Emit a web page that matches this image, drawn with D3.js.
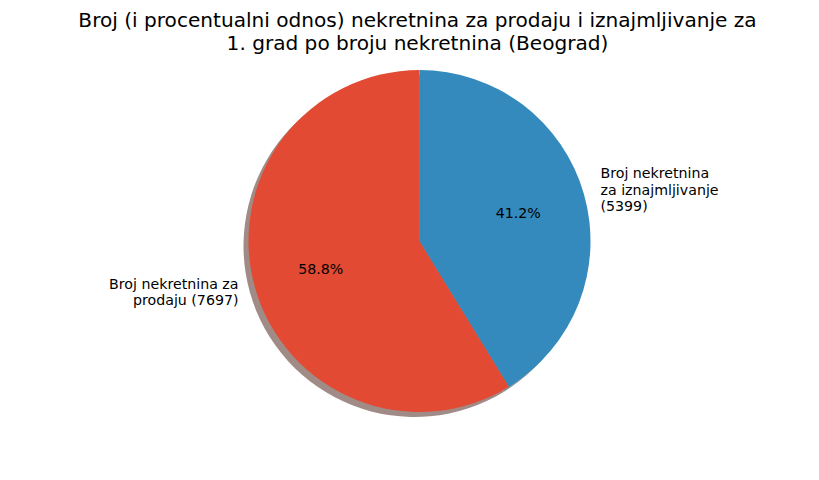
<!DOCTYPE html>
<html>
<head>
<meta charset="utf-8">
<script src="https://cdn.jsdelivr.net/npm/d3@7"></script>
<style>
    body { margin: 0; background: #fff; }
    text { font-family: "DejaVu Sans", sans-serif; }
</style>
</head>
<body>
<script>
// data

const categories = ["prodaja", "iznajmljivanje"];
const values = [7697, 5399];
const labelLines = [
    ["Broj nekretnina za", "prodaju (7697)"],
    ["Broj nekretnina", "za iznajmljivanje", "(5399)"]
];
const colors = ["#E24A33", "#348ABD"];
const titleLines = [
    "Broj (i procentualni odnos) nekretnina za prodaju i iznajmljivanje za",
    "1. grad po broju nekretnina (Beograd)"
];

function drawPie() {

    // dimensions

    const dms = { width: 819, height: 480, cx: 419.5, cy: 241, r: 171 };

    const svg = d3.select("body")
                  .append("svg")
                    .attr("width", dms.width)
                    .attr("height", dms.height);

    // title

    svg.append("text")
        .attr("x", dms.cx)
        .attr("y", 27)
        .attr("text-anchor", "middle")
        .style("font-size", "20.1px")
        .selectAll("tspan")
        .data(titleLines)
        .join("tspan")
          .attr("x", dms.cx - 2)
          .attr("dy", (d, i) => i === 0 ? 0 : 23.3)
          .text(d => d);

    // pie layout: first slice counter-clockwise from the top

    const color = d3.scaleOrdinal().domain(categories).range(colors);
    const shadowColor = d3.scaleOrdinal().domain(categories).range(colors.map(c => {
        const k = d3.rgb(c);
        return d3.rgb(255 - (255 - 0.3 * k.r) * 0.5, 255 - (255 - 0.3 * k.g) * 0.5, 255 - (255 - 0.3 * k.b) * 0.5);
    }));

    const pie = d3.pie()
                  .value((d, i) => values[i])
                  .sort(null)
                  .startAngle(0)
                  .endAngle(-2 * Math.PI);
    const arcs = pie(categories);

    const arc = d3.arc().innerRadius(0).outerRadius(dms.r);
    const total = d3.sum(values);

    // shadow

    svg.append("g")
        .attr("transform", `translate(${dms.cx - 5}, ${dms.cy + 5})`)
        .selectAll("path")
        .data(arcs)
        .join("path")
          .attr("d", arc)
          .attr("fill", d => shadowColor(d.data));

    const g = svg.append("g")
                 .attr("transform", `translate(${dms.cx}, ${dms.cy})`);

    g.selectAll("path.slice")
        .data(arcs)
        .join("path")
          .attr("class", "slice")
          .attr("d", arc)
          .attr("fill", d => color(d.data));

    // percentage labels

    const mid = d => (d.startAngle + d.endAngle) / 2;

    g.selectAll("text.pct")
        .data(arcs)
        .join("text")
          .attr("class", "pct")
          .attr("x", d => 0.6 * dms.r * Math.sin(mid(d)))
          .attr("y", d => -0.6 * dms.r * Math.cos(mid(d)) + 5)
          .attr("text-anchor", "middle")
          .style("font-size", "14.2px")
          .text(d => (100 * d.value / total).toFixed(1) + "%");

    // category labels

    const lh = 16.6;
    g.selectAll("text.lbl")
        .data(arcs)
        .join("text")
          .attr("class", "lbl")
          .attr("text-anchor", d => Math.sin(mid(d)) < 0 ? "end" : "start")
          .style("font-size", "14.2px")
          .each(function(d, i) {
              const lines = labelLines[i];
              const x = 1.1 * dms.r * Math.sin(mid(d));
              const y = -1.1 * dms.r * Math.cos(mid(d));
              const y0 = y - (lines.length - 1) * lh / 2 + 5;
              d3.select(this).selectAll("tspan")
                .data(lines)
                .join("tspan")
                  .attr("x", x)
                  .attr("y", (l, j) => y0 + j * lh)
                  .text(l => l);
          });
}

drawPie();
</script>
</body>
</html>
